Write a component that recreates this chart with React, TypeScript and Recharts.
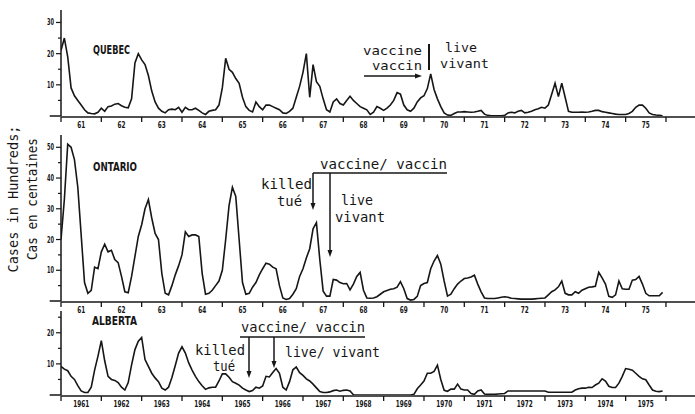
import { Line, LineChart, ReferenceLine, XAxis, YAxis } from "recharts";

// monthly case counts (hundreds), Jan 1961 .. Dec 1975
const firstYear = 1961;
const yearStarts = [1961, 1962, 1963, 1964, 1965, 1966, 1967, 1968, 1969, 1970, 1971, 1972, 1973, 1974, 1975, 1976];
const shortYearLabels = ["61", "62", "63", "64", "65", "66", "67", "68", "69", "70", "71", "72", "73", "74", "75"];
const longYearLabels = ["1961", "1962", "1963", "1964", "1965", "1966", "1967", "1968", "1969", "1970", "1971", "1972", "1973", "1974", "1975"];

const quebecCases = [
  21, 25, 19, 9, 6.5, 5, 3.5, 2, 1, 0.8, 0.7, 1.2,
  2.5, 1.5, 3, 3.2, 3.8, 4, 3.3, 2.8, 2.6, 5.5, 17, 20,
  18, 16.5, 13, 8, 4.5, 2.5, 1.5, 1, 2, 2.2, 2, 2.8,
  1.2, 2.8, 2, 2, 2.5, 1.8, 1, 0.5, 1.5, 1.8, 2, 3.5,
  9, 18.5, 15, 14, 12, 10.5, 6, 3, 1.8, 1.3, 4.5, 3,
  2, 3.5, 3.5, 3, 2.5, 2, 1, 0.8, 1.5, 2.5, 6, 9.5,
  14, 20, 6, 16.5, 11, 9.5, 5.5, 2, 1.3, 4.5, 5.5, 4,
  3.5, 5, 6.3, 5, 4, 3, 2.5, 2, 0.5, 1.2, 3, 2.5,
  1.8, 2.5, 3.5, 5, 7.5, 7, 3.5, 2, 1.5, 2.5, 4.5, 5.8,
  6.5, 8.8, 13.5, 8.5, 5.5, 3, 1, 0.3, 0.2, 0.8, 1.3, 1.3,
  1.4, 1.3, 1.2, 1.3, 1.5, 1.8, 0.6, 0.2, 0.1, 0.1, 0.1, 0.1,
  0.2, 1, 1.2, 1, 1.5, 1.8, 1, 1.2, 1.5, 2, 2.3, 2.8,
  2.5, 3.5, 7, 10.5, 6.2, 10.5, 6, 1.5, 1.2, 1.2, 1.2, 1.3,
  1.2, 1.3, 1.5, 1.8, 1.8, 1.4, 1.2, 1, 0.8, 0.6, 0.5, 0.5,
  0.5, 0.8, 1.5, 2.8, 3.5, 3.5, 2.5, 1, 0.5, 0.3, 0.2, 0.1,
];

const ontarioCases = [
  20, 33, 51, 50, 46, 37, 21.5, 6, 2.5, 3.5, 11, 10.5,
  16, 18.5, 16, 16.5, 13.5, 12.5, 8, 3, 2.7, 8, 14.5, 21,
  24.8, 30, 33, 27, 22, 20, 9, 2.5, 2, 5, 8.5, 11.5,
  15, 22.5, 21, 21.5, 21.5, 21, 9, 2.2, 2.5, 3.5, 5, 6.5,
  10, 20, 31, 37, 34, 20, 6, 2.2, 2.5, 4.5, 6, 8.5,
  10.5, 12.3, 12, 11, 10.5, 5, 1, 0.5, 0.8, 2.2, 4, 8,
  10.5, 14, 17, 23.5, 25.5, 13.5, 3.2, 1.6, 1.6, 7, 6.8, 6,
  5.6, 5.7, 3.6, 5.5, 8, 9.3, 3.5, 1, 0.9, 1, 1.4, 2.2,
  3, 3.4, 3.8, 4, 4.5, 6.3, 4, 0.8, 0.3, 0.5, 1.5, 5,
  5.7, 6, 10.5, 13, 14.8, 12, 6.5, 1.6, 2.2, 4, 5.5, 6.5,
  7.3, 7.5, 7.8, 8.4, 5.5, 3, 1, 0.8, 0.8, 0.8, 1, 1.2,
  1.4, 1.2, 0.9, 0.8, 0.7, 0.6, 0.6, 0.6, 0.6, 0.7, 0.8, 0.9,
  1, 2, 3, 3.6, 4.6, 6.5, 2.5, 2, 2, 3, 2.5, 3.5,
  4, 4.5, 4.6, 4.8, 9.3, 7.5, 5.5, 1.5, 1.2, 2, 6.5, 4,
  3.8, 3.8, 6.8, 7, 8, 5.5, 2.5, 1.7, 1.7, 1.7, 1.7, 2.8,
];

const albertaCases = [
  9.2, 8.3, 7.8, 6, 5, 3, 1.3, 0.8, 0.8, 2.5, 8, 12.5,
  17.5, 11, 6, 5, 4.7, 4, 2.5, 1.6, 4, 9.7, 14.6, 17.3,
  18.5, 11.4, 9.2, 7, 5.5, 4.3, 2.2, 1.6, 2.5, 5.6, 9.5, 13.5,
  15.5, 13.5, 10.3, 8, 6, 4.3, 3, 1.8, 2.3, 2.5, 2.5, 4.5,
  6.8, 6.8, 5.7, 4.3, 3.8, 3.2, 2.2, 1.6, 1.1, 1.4, 2.5, 2.2,
  2.9, 6, 5.8, 7.2, 8.5, 7, 2.5, 1.6, 4.3, 8.1, 9, 7.2,
  6.3, 5.2, 4.5, 3.5, 2.3, 1.1, 0.8, 0.8, 1, 1.4, 1.6, 1.2,
  1.5, 1.6, 1.3, 0.1, 0, 0, 0, 0, 0, 0, 0, 0,
  0, 0, 0, 0, 0, 0, 0, 0, 0, 0.2, 2, 3.2,
  4.5, 7, 7, 7.6, 9.6, 5, 1.5, 1.2, 1.9, 1.9, 3.5, 1.9,
  1.6, 1.6, 0.5, 0.2, 1.3, 1.6, 0.3, 0.2, 0.2, 0.2, 0.3, 0.4,
  0.5, 1.3, 1.3, 1.3, 1.3, 1.3, 1.3, 1.3, 1.3, 1.3, 1.3, 1.3,
  1.3, 0.9, 0.9, 0.9, 0.9, 0.9, 0.9, 0.9, 0.9, 1.6, 2, 2.2,
  2.2, 2.5, 2.4, 3.2, 3.8, 5.2, 4.5, 2.8, 2.4, 2.4, 3.8, 6,
  8.5, 8.3, 8, 7, 6, 5.2, 4.9, 3.2, 1.6, 1.2, 1.1, 1.3,
];

const INK = "#161616";
const MONO = "'DejaVu Sans Mono', 'Liberation Mono', monospace";
const NARROW = "'Liberation Sans Narrow', 'DejaVu Sans Condensed', 'Liberation Sans', sans-serif";
const X_DOMAIN: [number, number] = [1961, 1976.72];

const yearMids = yearStarts.slice(0, -1).map((y) => y + 0.5);

function toSeries(values: number[]) {
  return values.map((v, i) => ({ t: firstYear + i / 12, v }));
}

function YearMark(props: any) {
  const { x, y } = props;
  return <line x1={x} x2={x} y1={y} y2={y + 5} stroke={INK} strokeWidth={1.3} />;
}

function YearLabel(props: any) {
  const { x, y, index, labels, width } = props;
  return (
    <text
      x={x}
      y={y + 9}
      textAnchor="middle"
      dominantBaseline="central"
      fontFamily={NARROW}
      fontWeight="bold"
      fontSize={9}
      fill={INK}
      textLength={width}
      lengthAdjust="spacingAndGlyphs"
    >
      {labels[index]}
    </text>
  );
}

function ValueTick(props: any) {
  const { x, y, payload } = props;
  const major = payload.value % 10 === 0;
  return (
    <g>
      <line x1={x - (major ? 5 : 3)} x2={x} y1={y} y2={y} stroke={INK} strokeWidth={1.2} />
      {major && (
        <text
          x={x - 7}
          y={y}
          textAnchor="end"
          dominantBaseline="central"
          fontFamily={NARROW}
          fontWeight="bold"
          fontSize={9}
          fill={INK}
          textLength={7}
          lengthAdjust="spacingAndGlyphs"
        >
          {payload.value}
        </text>
      )}
    </g>
  );
}

type PanelProps = {
  values: number[];
  top: number;
  height: number;
  marginTop: number;
  marginBottom: number;
  yMax: number;
  yTicks: number[];
  labels: string[];
  labelWidth: number;
};

function Panel({ values, top, height, marginTop, marginBottom, yMax, yTicks, labels, labelWidth }: PanelProps) {
  const data = toSeries(values);
  return (
    <div style={{ position: "absolute", left: 0, top, width: 695, height }}>
      <LineChart width={695} height={height} data={data} margin={{ top: marginTop, right: 0, bottom: marginBottom, left: 0 }}>
        <XAxis
          xAxisId="yr"
          dataKey="t"
          type="number"
          domain={X_DOMAIN}
          allowDataOverflow
          ticks={yearStarts}
          interval={0}
          height={1}
          tickSize={0}
          tickMargin={0}
          tickLine={false}
          axisLine={{ stroke: INK, strokeWidth: 1.5 }}
          tick={<YearMark />}
        />
        <XAxis
          xAxisId="lab"
          dataKey="t"
          type="number"
          domain={X_DOMAIN}
          allowDataOverflow
          ticks={yearMids}
          interval={0}
          height={1}
          tickSize={0}
          tickMargin={0}
          tickLine={false}
          axisLine={false}
          tick={<YearLabel labels={labels} width={labelWidth} />}
        />
        <YAxis
          width={61}
          domain={[0, yMax]}
          allowDataOverflow
          ticks={yTicks}
          interval={0}
          tickSize={0}
          tickMargin={0}
          tickLine={false}
          axisLine={{ stroke: INK, strokeWidth: 1.5 }}
          tick={<ValueTick />}
        />
        <ReferenceLine
          xAxisId="yr"
          segment={[{ x: 1960.72, y: 0 }, { x: 1961, y: 0 }]}
          ifOverflow="visible"
          stroke={INK}
          strokeWidth={1.5}
        />
        <Line xAxisId="yr" dataKey="v" type="linear" stroke={INK} strokeWidth={1.6} dot={false} isAnimationActive={false} />
      </LineChart>
    </div>
  );
}

function Txt({ x, y, w, children, size = 14, family = MONO, bold = false }: any) {
  return (
    <text
      x={x}
      y={y}
      fontFamily={family}
      fontSize={size}
      fontWeight={bold ? "bold" : "normal"}
      fill={INK}
      textLength={w}
      lengthAdjust="spacingAndGlyphs"
    >
      {children}
    </text>
  );
}

function DownArrow({ x, y1, y2 }: { x: number; y1: number; y2: number }) {
  return (
    <g>
      <line x1={x} x2={x} y1={y1} y2={y2 - 5} stroke={INK} strokeWidth={1.5} />
      <polygon points={`${x - 2.5},${y2 - 7} ${x + 2.5},${y2 - 7} ${x},${y2}`} fill={INK} />
    </g>
  );
}

function Annotations() {
  return (
    <svg width={695} height={414} style={{ position: "absolute", left: 0, top: 0, pointerEvents: "none" }}>
      {/* axis title */}
      <text
        transform="translate(13,199) rotate(-90)"
        textAnchor="middle"
        dominantBaseline="central"
        fontFamily={MONO}
        fontSize={14}
        fill={INK}
        textLength={147}
        lengthAdjust="spacingAndGlyphs"
      >
        Cases in Hundreds;
      </text>
      <text
        transform="translate(32,199) rotate(-90)"
        textAnchor="middle"
        dominantBaseline="central"
        fontFamily={MONO}
        fontSize={14}
        fill={INK}
        textLength={122}
        lengthAdjust="spacingAndGlyphs"
      >
        Cas en centaines
      </text>

      {/* Quebec */}
      <Txt x={93} y={54} w={37} size={12} family={NARROW} bold>QUEBEC</Txt>
      <Txt x={363} y={55} w={59} size={12}>vaccine</Txt>
      <Txt x={372} y={69.5} w={50} size={12}>vaccin</Txt>
      <line x1={364} x2={416} y1={76} y2={76} stroke={INK} strokeWidth={1.3} />
      <polygon points="422,76 415,73.5 415,78.5" fill={INK} />
      <line x1={429} x2={429} y1={44} y2={70} stroke={INK} strokeWidth={2} />
      <Txt x={445} y={52} w={32} size={13}>live</Txt>
      <Txt x={440} y={68} w={49} size={13}>vivant</Txt>

      {/* Ontario */}
      <Txt x={93} y={171} w={44} size={12} family={NARROW} bold>ONTARIO</Txt>
      <Txt x={320} y={169} w={127}>vaccine/ vaccin</Txt>
      <line x1={313} x2={447} y1={173} y2={173} stroke={INK} strokeWidth={1.3} />
      <DownArrow x={313} y1={173} y2={210} />
      <DownArrow x={330} y1={173} y2={257} />
      <Txt x={261} y={189} w={51}>killed</Txt>
      <Txt x={277} y={206} w={25}>tué</Txt>
      <Txt x={341} y={205} w={32}>live</Txt>
      <Txt x={335} y={222} w={50}>vivant</Txt>

      {/* Alberta */}
      <Txt x={92} y={325} w={45} size={12} family={NARROW} bold>ALBERTA</Txt>
      <Txt x={241} y={332} w={124}>vaccine/ vaccin</Txt>
      <line x1={240} x2={365} y1={337} y2={337} stroke={INK} strokeWidth={1.3} />
      <DownArrow x={249} y1={337} y2={378} />
      <DownArrow x={274} y1={337} y2={368} />
      <Txt x={195} y={355} w={50}>killed</Txt>
      <Txt x={213} y={371} w={22}>tué</Txt>
      <Txt x={285} y={357} w={95}>live/ vivant</Txt>
    </svg>
  );
}

export default function App() {
  return (
    <div style={{ position: "absolute", left: 0, top: 0, width: 695, height: 414, background: "#fff", overflow: "hidden" }}>
      <Panel
        values={quebecCases}
        top={0}
        height={131}
        marginTop={10}
        marginBottom={13}
        yMax={34}
        yTicks={[5, 10, 15, 20, 25, 30]}
        labels={shortYearLabels}
        labelWidth={8}
      />
      <Panel
        values={ontarioCases}
        top={130}
        height={186}
        marginTop={5}
        marginBottom={13}
        yMax={54}
        yTicks={[5, 10, 15, 20, 25, 30, 35, 40, 45, 50]}
        labels={shortYearLabels}
        labelWidth={8}
      />
      <Panel
        values={albertaCases}
        top={306}
        height={108}
        marginTop={5}
        marginBottom={17}
        yMax={27}
        yTicks={[5, 10, 15, 20, 25]}
        labels={longYearLabels}
        labelWidth={16}
      />
      <Annotations />
    </div>
  );
}
